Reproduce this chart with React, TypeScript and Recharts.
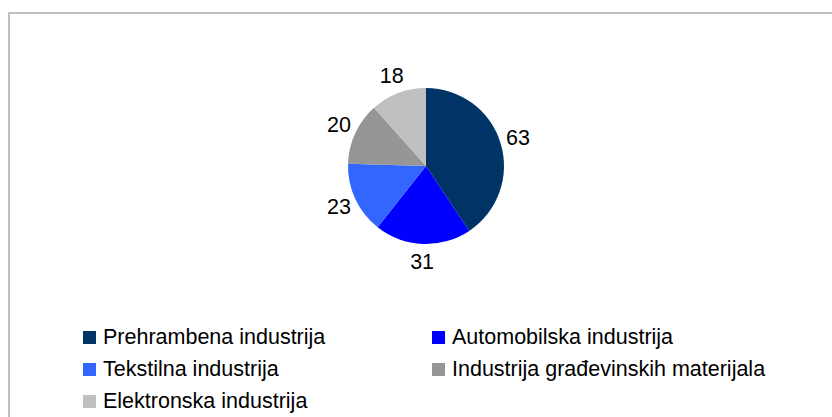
import { Cell, Legend, Pie, PieChart } from "recharts";

const industries = [
    "Prehrambena industrija",
    "Automobilska industrija",
    "Tekstilna industrija",
    "Industrija građevinskih materijala",
    "Elektronska industrija",
];
const counts = [63, 31, 23, 20, 18];
const colors = ["#003366", "#0000FF", "#3366FF", "#969696", "#C0C0C0"];

const data = industries.map((name, i) => ({ name, value: counts[i] }));

const FONT = '"Liberation Sans", Arial, sans-serif';
const RADIAN = Math.PI / 180;

const renderLabel = (props: any) => {
    const { cx, cy, midAngle, outerRadius, value } = props;
    const r = outerRadius + 18;
    const x = cx + r * Math.cos(-midAngle * RADIAN);
    const y = cy + r * Math.sin(-midAngle * RADIAN);
    return (
        <text x={x} y={y} fill="#000" fontSize={21.5} fontFamily={FONT}
            textAnchor="middle" dominantBaseline="central">
            {value}
        </text>
    );
};

function LegendGrid(props: any) {
    const items = props.payload || [];
    return (
        <div style={{ position: "relative", width: 822, height: 403 }}>
            {industries.map((name, i) => {
                const col = i % 2;
                const row = Math.floor(i / 2);
                const left = 73 + col * 349;
                const top = 323 + row * 32;
                const item = items.find((p: any) => p.value === name);
                return (
                    <div key={name} style={{
                        position: "absolute", left, top: top - 13, height: 26,
                        display: "flex", alignItems: "center", whiteSpace: "nowrap",
                        fontFamily: FONT, fontSize: 21.5, color: "#000",
                    }}>
                        <span style={{
                            display: "inline-block", width: 13, height: 13,
                            background: item ? item.color : colors[i], marginRight: 7,
                        }} />
                        {name}
                    </div>
                );
            })}
        </div>
    );
}

export default function App() {
    // fixed box so the page never gets scrollbars; right and bottom edges run off the window
    return (
        <div style={{
            position: "fixed", left: 8, top: 12, width: 822, height: 403,
            borderTop: "2px solid #c0c0c0", borderLeft: "2px solid #c0c0c0",
            overflow: "hidden", background: "#fff",
        }}>
            <PieChart width={822} height={403} margin={{ top: 0, right: 0, bottom: 0, left: 0 }}>
                <Pie
                    data={data}
                    dataKey="value"
                    nameKey="name"
                    cx={416}
                    cy={152}
                    outerRadius={78}
                    startAngle={90}
                    endAngle={-270}
                    stroke="none"
                    label={renderLabel}
                    labelLine={false}
                    isAnimationActive={false}
                >
                    {data.map((d, i) => (
                        <Cell key={d.name} fill={colors[i]} />
                    ))}
                </Pie>
                <Legend
                    content={<LegendGrid />}
                    wrapperStyle={{ position: "absolute", left: 0, top: 0, width: 822, height: 403 }}
                />
            </PieChart>
        </div>
    );
}
